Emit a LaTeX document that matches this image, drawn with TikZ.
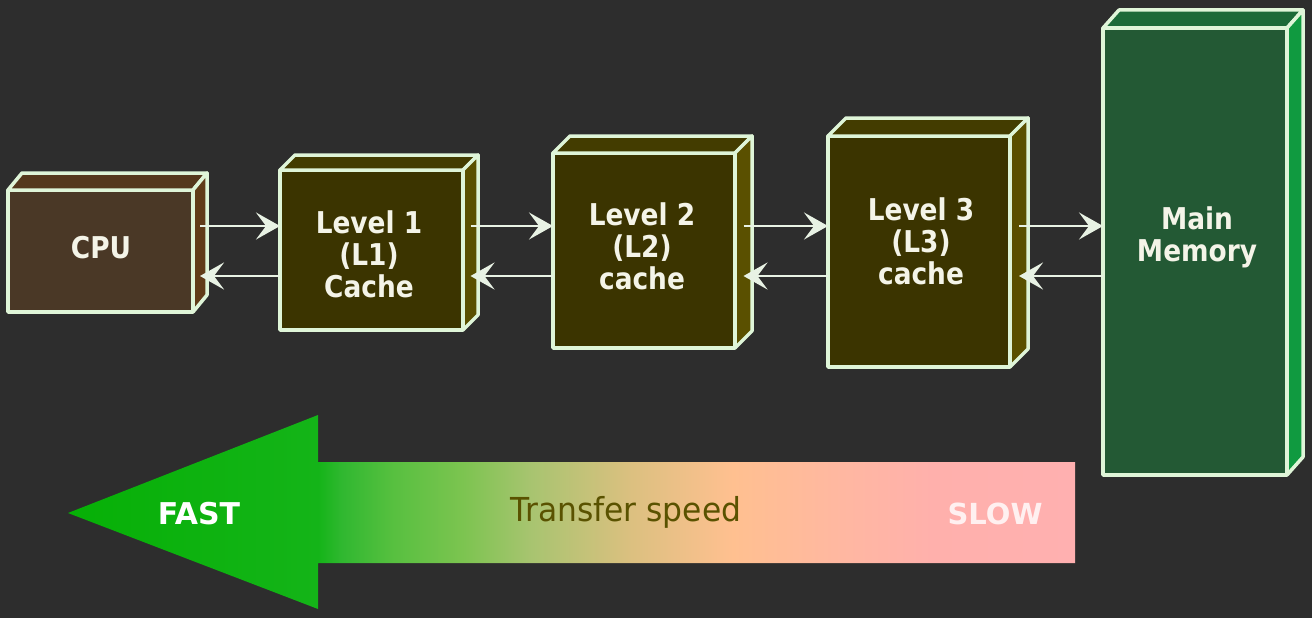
\documentclass[tikz,border=0pt]{standalone}
\usepackage{fontspec}
\setmainfont{DejaVu Sans}
\newfontfamily\lblfont{DejaVu Sans}[UprightFont=*-Bold,FakeStretch=0.88]
\newfontfamily\tsfont{DejaVu Sans}[FakeStretch=0.95]
\usetikzlibrary{arrows.meta,calc}
\definecolor{bg}{HTML}{2D2D2D}
\definecolor{edgec}{HTML}{DFF5D8}
\definecolor{cpufront}{HTML}{4A3826}
\definecolor{cpuside}{HTML}{603C18}
\definecolor{cputop}{HTML}{55381C}
\definecolor{cachefront}{HTML}{3B3400}
\definecolor{cacheside}{HTML}{5A5000}
\definecolor{cachetop}{HTML}{433C00}
\definecolor{mmfront}{HTML}{235934}
\definecolor{mmside}{HTML}{109A40}
\definecolor{mmtop}{HTML}{1C6A38}
\definecolor{arrowc}{HTML}{E8F2E4}
\definecolor{labelc}{HTML}{F4F4E8}
\definecolor{tsc}{HTML}{5A5200}
\definecolor{g0}{HTML}{06B006}
\definecolor{g1}{HTML}{14B418}
\definecolor{g2}{HTML}{30B830}
\definecolor{g3}{HTML}{58C040}
\definecolor{g4}{HTML}{7CC450}
\definecolor{g5}{HTML}{A8C470}
\definecolor{g6}{HTML}{DCC080}
\definecolor{g7}{HTML}{FFC090}
\definecolor{g8}{HTML}{FFB8A0}
\definecolor{g9}{HTML}{FFB0AC}
\definecolor{g10}{HTML}{FFB0B0}
\pgfdeclarehorizontalshading{speedshade}{100bp}{color(0bp)=(g0); color(25bp)=(g0); color(37.4bp)=(g1); color(38.6bp)=(g2); color(41.2bp)=(g3); color(44.6bp)=(g4); color(48bp)=(g5); color(53bp)=(g6); color(58bp)=(g7); color(63bp)=(g8); color(68bp)=(g9); color(75bp)=(g10); color(100bp)=(g10)}
\tikzset{
  face/.style={draw=edgec, line width=3.5pt, line join=round},
  frontface/.style={face, rectangle, inner sep=0pt, outer sep=0pt},
  lbl/.style={text=labelc, font=\lblfont\fontsize{30}{32}\selectfont, align=center, inner sep=0pt},
  flow/.style={draw=arrowc, line width=2.8pt, -{Stealth[length=24pt,width=27pt,inset=10pt,color=arrowc]}},
  spdtxt/.style={font=\fontsize{30}{32}\selectfont, inner sep=0pt}
}
\newcommand\boxfaces[5]{%
  \filldraw[face, fill=#4] (#1.north west) -- ++(#2,#3) -- ($(#1.north east)+(#2,#3)$) -- (#1.north east) -- cycle;
  \filldraw[face, fill=#5] (#1.north east) -- ++(#2,#3) -- ($(#1.south east)+(#2,#3)$) -- (#1.south east) -- cycle;
  \coordinate (#1S) at ($(#1.east)+(#2/2,0)$);
}
\begin{document}
\begin{tikzpicture}[x=1pt,y=-1pt]
\fill[bg] (0,0) rectangle (1312,618);
\useasboundingbox (0,0) rectangle (1312,618);

% front faces
\node[frontface, fill=cpufront, minimum width=185pt, minimum height=122pt] (cpu) at (100.5,251) {};
\node[frontface, fill=cachefront, minimum width=183pt, minimum height=160pt] (l1) at (371.5,250) {};
\node[frontface, fill=cachefront, minimum width=182pt, minimum height=195pt] (l2) at (644,250.5) {};
\node[frontface, fill=cachefront, minimum width=182pt, minimum height=231pt] (l3) at (919,251.5) {};
\node[frontface, fill=mmfront, minimum width=184pt, minimum height=447pt] (mm) at (1195,251.5) {};

\boxfaces{cpu}{14}{-17}{cputop}{cpuside}
\boxfaces{l1}{15}{-15}{cachetop}{cacheside}
\boxfaces{l2}{17}{-17}{cachetop}{cacheside}
\boxfaces{l3}{18}{-18}{cachetop}{cacheside}
\boxfaces{mm}{16}{-18}{mmtop}{mmside}

% labels
\node[lbl] (tcpu) at (101,248) {CPU};
\node[lbl] (tl1) at (369,254) {Level 1\\(L1)\\Cache};
\node[lbl] (tl2) at (642,246) {Level 2\\(L2)\\cache};
\node[lbl] (tl3) at (921,241) {Level 3\\(L3)\\cache};
\node[lbl] (tmm) at (1197,237) {Main\\Memory};

% connectors
\coordinate (up) at (0,226);
\coordinate (dn) at (0,276);
\draw[flow] (cpuS |- up) -- (l1.west |- up);
\draw[flow] (l1.west |- dn) -- (cpuS |- dn);
\draw[flow] (l1S |- up) -- (l2.west |- up);
\draw[flow] (l2.west |- dn) -- (l1S |- dn);
\draw[flow] (l2S |- up) -- (l3.west |- up);
\draw[flow] (l3.west |- dn) -- (l2S |- dn);
\draw[flow] (l3S |- up) -- (mm.west |- up);
\draw[flow] (mm.west |- dn) -- (l3S |- dn);

% speed arrow
\shade[shading=speedshade] (68,513) -- (318,415) -- (318,462) -- (1075,462) -- (1075,563) -- (318,563) -- (318,609) -- cycle;
\node[spdtxt, font=\bfseries\fontsize{30}{32}\selectfont, text=white] (fast) at (199,514) {FAST};
\node[spdtxt, font=\tsfont\fontsize{33}{35}\selectfont, text=tsc] (speed) at (626,512) {Transfer speed};
\node[spdtxt, font=\bfseries\fontsize{29}{32}\selectfont, text=white!94!red] (slow) at (995,514) {SLOW};
\end{tikzpicture}
\end{document}
